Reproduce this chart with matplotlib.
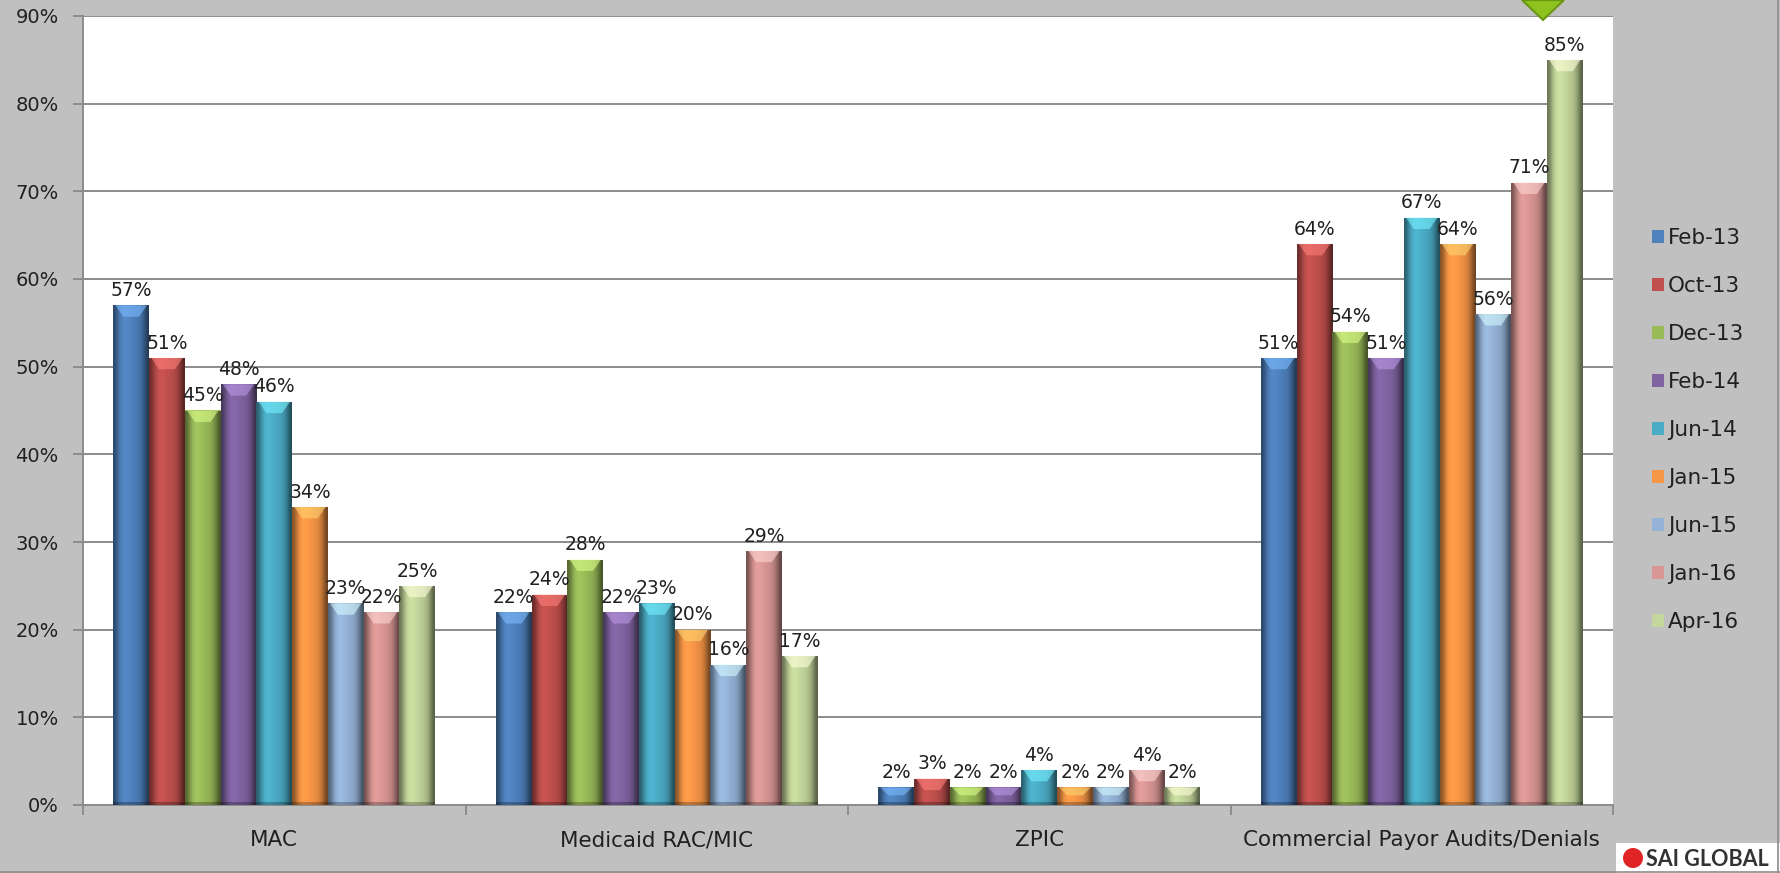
import numpy as np
import matplotlib
matplotlib.use("Agg")
import matplotlib.pyplot as plt
from matplotlib.patches import Polygon, Rectangle, Ellipse
from matplotlib.colors import to_rgb

plt.rcParams['font.family'] = ['DejaVu Sans']

categories = ["MAC", "Medicaid RAC/MIC", "ZPIC", "Commercial Payor Audits/Denials"]
series = ["Feb-13", "Oct-13", "Dec-13", "Feb-14", "Jun-14", "Jan-15", "Jun-15", "Jan-16", "Apr-16"]
values = [
    [57, 22, 2, 51],   # Feb-13
    [51, 24, 3, 64],   # Oct-13
    [45, 28, 2, 54],   # Dec-13
    [48, 22, 2, 51],   # Feb-14
    [46, 23, 4, 67],   # Jun-14
    [34, 20, 2, 64],   # Jan-15
    [23, 16, 2, 56],   # Jun-15
    [22, 29, 4, 71],   # Jan-16
    [25, 17, 2, 85],   # Apr-16
]
colors = ["#4F81BD", "#C0504D", "#9BBB59", "#8064A2", "#4BACC6",
          "#F79646", "#95B3D7", "#D99694", "#C3D69B"]
yticks = [0, 10, 20, 30, 40, 50, 60, 70, 80, 90]

W, H = 1781, 873
fig = plt.figure(figsize=(W / 100, H / 100), dpi=100)
fig.patch.set_facecolor("#C0C0C0")
ax = fig.add_axes([83 / W, 1 - 805 / H, (1613 - 83) / W, (805 - 16) / H])
ax.set_facecolor("white")

n = len(series)
bw = 0.0935
x = np.arange(len(categories))

# horizontal shading profile for the bevel look
prof = np.array([0.55, 0.8, 1.0, 1.06, 1.04, 1.0, 0.97, 0.93, 0.86, 0.7, 0.45])

for i, (name, vals, c) in enumerate(zip(series, values, colors)):
    pos = x + (i - (n - 1) / 2) * bw
    bars = ax.bar(pos, vals, width=bw, color=c, edgecolor="none", label=name, zorder=3)
    base = np.array(to_rgb(c))
    grad = np.clip(base[None, :] * prof[:, None], 0, 1)[None, :, :]
    for b, v in zip(bars, vals):
        bx, by, bwid, bh = b.get_x(), b.get_y(), b.get_width(), b.get_height()
        im = ax.imshow(grad, extent=[bx, bx + bwid, by, by + bh], aspect="auto",
                       interpolation="bicubic", zorder=4)
        im.set_clip_path(b)
        # top bevel highlight
        cap = min(1.3, bh * 0.45)
        light = np.clip(base * 1.25 + 0.1, 0, 1)
        ax.add_patch(Polygon([[bx + bwid * 0.06, by + bh], [bx + bwid * 0.94, by + bh],
                              [bx + bwid * 0.72, by + bh - cap], [bx + bwid * 0.28, by + bh - cap]],
                             closed=True, facecolor=light, edgecolor="none", alpha=0.6, zorder=5))
        # dark bottom rim
        ax.add_patch(Rectangle((bx, by), bwid, min(0.35, bh * 0.2), facecolor="black",
                               alpha=0.25, edgecolor="none", zorder=5))
        ax.text(bx + bwid / 2, v + 0.6, f"{v}%", ha="center", va="bottom",
                fontsize=13.5, color="#202020", zorder=6)

ax.set_xlim(-0.5, 3.5)
ax.set_ylim(0, 90)
ax.set_yticks(yticks)
ax.set_yticklabels([f"{t}%" for t in yticks], fontsize=14, color="#202020")
ax.yaxis.grid(True, color="#8C8C8C", linewidth=1.4, zorder=1)
ax.set_axisbelow(True)

ax.set_xticks([-0.5, 0.5, 1.5, 2.5, 3.5])
ax.set_xticklabels([])
ax.set_xticks(x, minor=True)
ax.set_xticklabels(categories, minor=True, fontsize=15.5, color="#202020")
ax.tick_params(axis="x", which="minor", length=0, pad=18)
ax.tick_params(axis="x", which="major", length=7, color="#8C8C8C", width=1.4)
ax.tick_params(axis="y", length=7.5, color="#8C8C8C", width=1.4, pad=10)

for s in ["top", "right"]:
    ax.spines[s].set_visible(False)
for s in ["left", "bottom"]:
    ax.spines[s].set_color("#8C8C8C")
    ax.spines[s].set_linewidth(1.4)

leg = ax.legend(loc="center left", bbox_to_anchor=(1652 / W, 1 - 430 / H),
                bbox_transform=fig.transFigure, frameon=False, fontsize=15.5,
                handlelength=0.55, handleheight=0.55, handletextpad=0.2,
                labelspacing=1.3, borderaxespad=0, borderpad=0)
for t in leg.get_texts():
    t.set_color("#202020")

# green marker at the top
tri = Polygon([[1522 / W, 1.0], [1564 / W, 1.0], [1543 / W, 1 - 20 / H]], closed=True,
              transform=fig.transFigure, facecolor="#8DC21F", edgecolor="#6A9612",
              linewidth=1.5, zorder=10)
fig.patches.append(tri)

# outer frame lines
fig.add_artist(plt.Line2D([1778 / W, 1778 / W], [0, 1], color="#8C8C8C", linewidth=1.2))
fig.add_artist(plt.Line2D([0, 1], [1.5 / H, 1.5 / H], color="#8C8C8C", linewidth=1.2))

# logo
fig.patches.append(Rectangle((1616 / W, 0), (W - 1616) / W, 30 / H,
                             transform=fig.transFigure, facecolor="white", edgecolor="none"))
fig.patches.append(Ellipse((1633 / W, 15 / H), 20 / W, 20 / H, transform=fig.transFigure,
                           facecolor="#E02424", edgecolor="none"))
fig.text(1646 / W, 14 / H, "SAI GLOBAL", fontsize=15.5, fontweight="bold",
         color="#333333", ha="left", va="center", family=["Lato", "DejaVu Sans"])

fig.savefig("out.png", dpi=100, facecolor=fig.get_facecolor())
